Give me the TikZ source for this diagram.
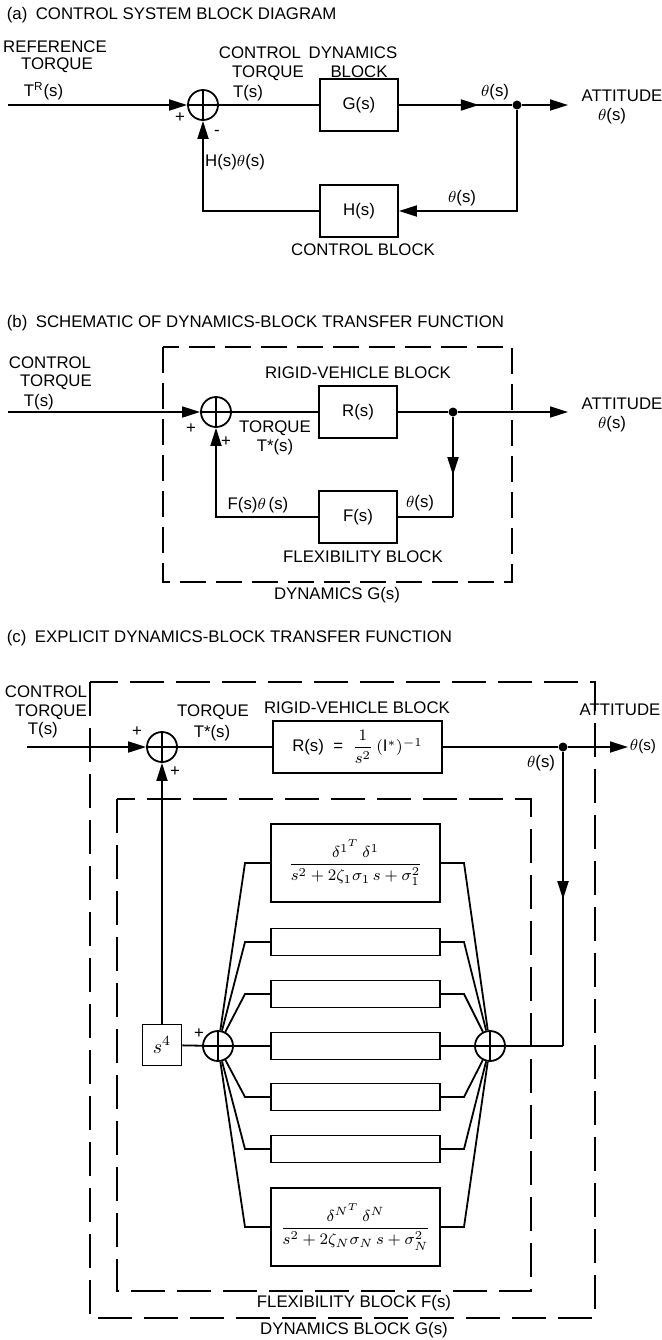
\documentclass[tikz,border=0pt]{standalone}
\usepackage{amsmath}
\usepackage{fontspec}
\setmainfont{Liberation Sans}
\usetikzlibrary{arrows.meta,decorations.markings}

\tikzset{
  lbl/.style={inner sep=1pt,font=\fontsize{8.4}{9.5}\selectfont},
  blk/.style={draw,minimum width=39pt,minimum height=26pt,inner sep=1pt,font=\fontsize{8.4}{9.5}\selectfont},
  summer/.style={draw,circle,minimum size=15pt,inner sep=0pt,
    path picture={\draw (path picture bounding box.north) -- (path picture bounding box.south)
      (path picture bounding box.west) -- (path picture bounding box.east);}},
  junc/.style={circle,fill,inner sep=0pt,minimum size=4.5pt},
  tip/.style={-{Triangle[length=9pt,width=5.5pt]}},
  tipat/.style={postaction={decorate},decoration={markings,
    mark=at position #1 with {\arrow{Triangle[length=9pt,width=5.5pt]}}}},
  dashbox/.style={dash pattern=on 13pt off 5pt},
  mode/.style={draw,minimum width=84.5pt,minimum height=13.5pt,inner sep=0pt},
  modebig/.style={draw,minimum width=84.5pt,minimum height=39pt,inner sep=0pt,font=\fontsize{8}{9}\selectfont},
}

\begin{document}
\begin{tikzpicture}[x=0.5pt,y=-0.5pt,line width=0.9pt]
\useasboundingbox (0,0) rectangle (661,1340);

% (a) control system
\node[lbl,anchor=west] (ttla) at (4,15) {(a)\enspace CONTROL SYSTEM BLOCK DIAGRAM};
\node[lbl] (refa1) at (55,47) {REFERENCE};
\node[lbl] (refa2) at (57,65) {TORQUE};
\node[lbl,anchor=west] (refa3) at (21,91) {T\textsuperscript{R}(s)};
\coordinate (ina) at (8,105);
\node[summer] (suma) at (203,105) {};
\node[blk] (Ga) at (359,105) {G(s)};
\node[junc] (dota) at (517,105) {};
\coordinate (outa) at (568,105);
\node[blk] (Ha) at (359,211) {H(s)};
\coordinate (fba) at (517,211);
\draw[tip] (ina) -- (suma);
\draw (suma) -- (Ga);
\draw[tipat=0.71] (Ga) -- (dota);
\draw[tip] (dota) -- (outa);
\draw[tip] (dota) -- (fba) -- (Ha);
\draw[tip] (Ha) -| (suma);
\node[lbl] (pla) at (180,118) {+};
\node[lbl] (mia) at (217,133) {-};
\node[lbl] (cta1) at (260,53) {CONTROL};
\node[lbl] (cta2) at (268,73) {TORQUE};
\node[lbl] (cta3) at (248,93) {T(s)};
\node[lbl] (dba1) at (353,53) {DYNAMICS};
\node[lbl] (dba2) at (359,72) {BLOCK};
\node[lbl] (tha1) at (495,92) {$\theta$(s)};
\node[lbl] (ata1) at (622,96) {ATTITUDE};
\node[lbl] (ata2) at (612,116) {$\theta$(s)};
\node[lbl] (tha2) at (462,198) {$\theta$(s)};
\node[lbl] (hta) at (235,162) {H(s)$\theta$(s)};
\node[lbl] (cba) at (363,250) {CONTROL BLOCK};

% (b) schematic of dynamics block
\node[lbl,anchor=west] (ttlb) at (4,323) {(b)\enspace SCHEMATIC OF DYNAMICS-BLOCK TRANSFER FUNCTION};
\draw[dashbox] (163,347) rectangle (512,582);
\node[lbl] (ctb1) at (50,363) {CONTROL};
\node[lbl] (ctb2) at (56,382) {TORQUE};
\node[lbl,anchor=west] (ctb3) at (21,402) {T(s)};
\coordinate (inb) at (8,412);
\node[summer] (sumb) at (216,412) {};
\node[blk] (Rb) at (358,412) {R(s)};
\node[junc] (dotb) at (453,412) {};
\coordinate (outb) at (568,412);
\node[blk] (Fb) at (358,517) {F(s)};
\coordinate (fbb) at (453,517);
\draw[tip] (inb) -- (sumb);
\draw (sumb) -- (Rb);
\draw (Rb) -- (dotb);
\draw[tip] (dotb) -- (outb);
\draw[tipat=0.58] (dotb) -- (fbb);
\draw (fbb) -- (Fb);
\draw[tip] (Fb) -| (sumb);
\node[lbl] (plb1) at (191,429) {+};
\node[lbl] (plb2) at (226,442) {+};
\node[lbl] (tqb1) at (275,428) {TORQUE};
\node[lbl] (tqb2) at (275,447) {T*(s)};
\node[lbl] (rvb) at (358,373) {RIGID-VEHICLE BLOCK};
\node[lbl] (atb1) at (622,404) {ATTITUDE};
\node[lbl] (atb2) at (612,424) {$\theta$(s)};
\node[lbl] (thb) at (420,503) {$\theta$(s)};
\node[lbl] (ftb) at (258,505) {F(s)$\theta$\,(s)};
\node[lbl] (fxb) at (363,557) {FLEXIBILITY BLOCK};
\node[lbl] (dyb) at (337,595) {DYNAMICS G(s)};

% (c) explicit dynamics block
\node[lbl,anchor=west] (ttlc) at (4,638) {(c)\enspace EXPLICIT DYNAMICS-BLOCK TRANSFER FUNCTION};
\draw[dashbox,dash pattern=on 17pt off 6pt] (90,682) rectangle (595,1318);
\draw[dashbox,dash pattern=on 17pt off 6pt] (117,799) rectangle (531,1291);
\node[lbl] (ctc1) at (46,692) {CONTROL};
\node[lbl] (ctc2) at (51,712) {TORQUE};
\node[lbl,anchor=west] (ctc3) at (25,730) {T(s)};
\coordinate (inc) at (27,747);
\node[summer] (sumc) at (162,747) {};
\node[blk,minimum width=84.5pt] (Rc) at (357.5,747) {R(s) \;=\; $\dfrac{1}{s^{2}}\,(\mathrm{I}^{*})^{-1}$};
\node[junc] (dotc) at (563,747) {};
\coordinate (outc) at (628,747);
\coordinate (crc) at (563,1046);
\draw[tip] (inc) -- (sumc);
\draw (sumc) -- (Rc);
\draw (Rc) -- (dotc);
\draw[tip] (dotc) -- (outc);
\node[lbl] (plc1) at (137,732) {+};
\node[lbl] (plc2) at (175,772) {+};
\node[lbl] (tqc1) at (213,712) {TORQUE};
\node[lbl] (tqc2) at (212,733) {T*(s)};
\node[lbl] (rvc) at (357,708) {RIGID-VEHICLE BLOCK};
\node[lbl] (atc1) at (620,710) {ATTITUDE};
\node[lbl,anchor=west,inner sep=0pt,font=\fontsize{7.6}{9}\selectfont] (atc2) at (629,747) {$\theta$(s)};
\node[lbl] (thc) at (541,763) {$\theta$(s)};

% modal branches
\node[summer] (lsc) at (218,1046) {};
\node[summer] (rsc) at (490,1046) {};
\node[modebig] (m1) at (355.5,863) {$\dfrac{\delta^{1^{T}}\,\delta^{1}}{s^{2}+2\zeta_{1}\sigma_{1}\,s+\sigma_{1}^{2}}$};
\node[mode] (m2) at (355.5,942) {};
\node[mode] (m3) at (355.5,994) {};
\node[mode] (m4) at (355.5,1046) {};
\node[mode] (m5) at (355.5,1097) {};
\node[mode] (m6) at (355.5,1149) {};
\node[modebig] (m7) at (355.5,1227) {$\dfrac{\delta^{N^{T}}\,\delta^{N}}{s^{2}+2\zeta_{N}\sigma_{N}\,s+\sigma_{N}^{2}}$};
\draw (lsc) -- (245,863) -- (m1);
\draw (lsc) -- (245,942) -- (m2);
\draw (lsc) -- (245,994) -- (m3);
\draw (lsc) -- (m4);
\draw (lsc) -- (245,1097) -- (m5);
\draw (lsc) -- (245,1149) -- (m6);
\draw (lsc) -- (245,1227) -- (m7);
\draw (m1) -- (464,863) -- (rsc);
\draw (m2) -- (464,942) -- (rsc);
\draw (m3) -- (464,994) -- (rsc);
\draw (m4) -- (rsc);
\draw (m5) -- (464,1097) -- (rsc);
\draw (m6) -- (464,1149) -- (rsc);
\draw (m7) -- (464,1227) -- (rsc);
\node[draw,minimum width=19.5pt,minimum height=20.5pt,inner sep=0pt] (s4c) at (162,1045) {$s^{4}$};
\draw (s4c) -- (lsc);
\draw[tip] (s4c) -- (sumc);
\draw[tipat=0.5] (dotc) -- (crc);
\draw (crc) -- (rsc);
\node[lbl] (plc3) at (199,1034) {+};
\node[lbl] (fxc) at (354,1303) {FLEXIBILITY BLOCK F(s)};
\node[lbl] (dyc) at (354,1330) {DYNAMICS BLOCK G(s)};
\end{tikzpicture}
\end{document}
